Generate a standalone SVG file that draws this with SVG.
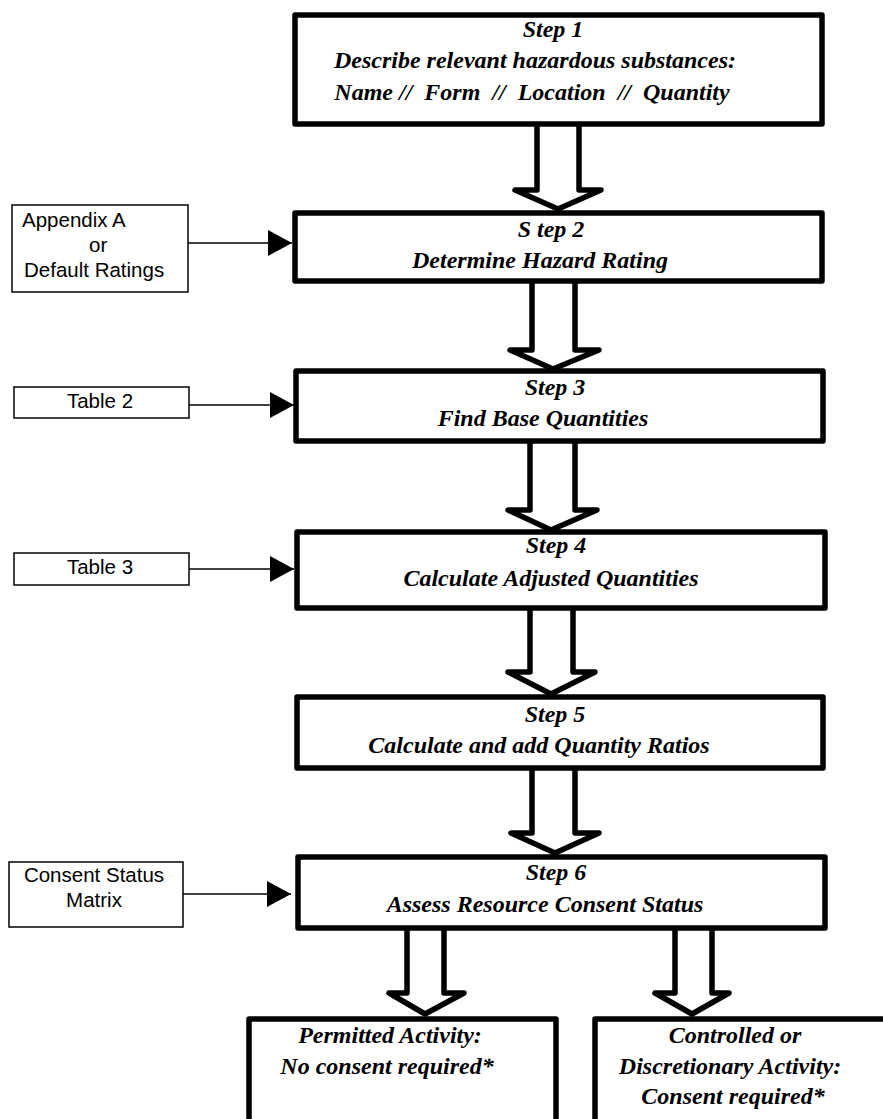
<svg xmlns="http://www.w3.org/2000/svg" width="883" height="1119" viewBox="0 0 883 1119">
<style>
.step{fill:#fff;stroke:#000;stroke-width:5.5;stroke-linejoin:round}
.src{fill:#fff;stroke:#000;stroke-width:1.5}
.big{fill:#fff;stroke:#000;stroke-width:5.5;stroke-linejoin:round}
.thin{fill:none;stroke:#000;stroke-width:1.5}
.t{font-family:"Liberation Serif","Times New Roman",serif;font-weight:bold;font-style:italic;font-size:24px;text-anchor:middle;fill:#000}
.s{font-family:"Liberation Sans",Arial,sans-serif;font-size:20.5px;fill:#000}
.m{text-anchor:middle}
</style>
<defs>
<marker id="ah" markerUnits="userSpaceOnUse" markerWidth="25" markerHeight="26" refX="24" refY="13" orient="auto" viewBox="0 0 25 26">
<path d="M0,0 L24,13 L0,26 z" fill="#000"/>
</marker>
</defs>

<g id="connectors">
<polygon class="big" points="537,122 579,122 579,190 601,190 558,209 515,190 537,190"/>
<polygon class="big" points="532,279 575,279 575,350 599,350 553,369 510,350 532,350"/>
<polygon class="big" points="530,439 575,439 575,510 597,510 551,530 508,510 530,510"/>
<polygon class="big" points="530,606 573,606 573,672 595,672 551,694 508,672 530,672"/>
<polygon class="big" points="532,766 575,766 575,833 599,833 555,853 511,833 532,833"/>
<polygon class="big" points="407,926 444,926 444,993 464,993 425,1014 389,993 407,993"/>
<polygon class="big" points="675,926 712,926 712,993 729,993 692,1014 655,993 675,993"/>
<line class="thin" x1="188" y1="243" x2="292" y2="243" marker-end="url(#ah)"/>
<line class="thin" x1="189" y1="405" x2="294" y2="405" marker-end="url(#ah)"/>
<line class="thin" x1="189" y1="569" x2="294" y2="569" marker-end="url(#ah)"/>
<line class="thin" x1="183" y1="894" x2="291" y2="894" marker-end="url(#ah)"/>
</g>

<g id="step1">
<rect class="step" x="295" y="15" width="527" height="109"/>
<text class="t" x="553" y="37">Step 1</text>
<text class="t" x="535" y="68">Describe relevant hazardous substances:</text>
<text class="t" x="532" y="100" xml:space="preserve">Name //  Form  //  Location  //  Quantity</text>
</g>

<g id="step2">
<rect class="step" x="295" y="213" width="527" height="68"/>
<text class="t" x="551" y="237">S tep 2</text>
<text class="t" x="540" y="268">Determine Hazard Rating</text>
</g>

<g id="step3">
<rect class="step" x="296" y="371" width="527" height="70"/>
<text class="t" x="555" y="395">Step 3</text>
<text class="t" x="543" y="426">Find Base Quantities</text>
</g>

<g id="step4">
<rect class="step" x="297" y="532" width="528" height="76"/>
<text class="t" x="556" y="553">Step 4</text>
<text class="t" x="551" y="586">Calculate Adjusted Quantities</text>
</g>

<g id="step5">
<rect class="step" x="297" y="697" width="526" height="71"/>
<text class="t" x="555" y="722">Step 5</text>
<text class="t" x="539" y="753">Calculate and add Quantity Ratios</text>
</g>

<g id="step6">
<rect class="step" x="298" y="857" width="527" height="71"/>
<text class="t" x="556" y="880">Step 6</text>
<text class="t" x="545" y="912">Assess Resource Consent Status</text>
</g>

<g id="permitted">
<rect class="step" x="249" y="1019" width="307" height="120"/>
<text class="t" x="390" y="1043">Permitted Activity:</text>
<text class="t" x="387" y="1074">No consent required*</text>
</g>

<g id="controlled">
<rect class="step" x="595" y="1019" width="310" height="120"/>
<text class="t" x="735" y="1043">Controlled or</text>
<text class="t" x="730" y="1074">Discretionary Activity:</text>
<text class="t" x="733" y="1104">Consent required*</text>
</g>

<g id="appendix">
<rect class="src" x="12" y="205" width="176" height="87"/>
<text class="s" x="22" y="227">Appendix A</text>
<text class="s" x="89" y="252">or</text>
<text class="s" x="24" y="277">Default Ratings</text>
</g>

<g id="table2">
<rect class="src" x="14" y="387" width="175" height="31"/>
<text class="s m" x="100" y="408">Table 2</text>
</g>

<g id="table3">
<rect class="src" x="14" y="553" width="175" height="32"/>
<text class="s m" x="100" y="574">Table 3</text>
</g>

<g id="consent">
<rect class="src" x="9" y="862" width="174" height="65"/>
<text class="s m" x="94" y="882">Consent Status</text>
<text class="s m" x="94" y="907">Matrix</text>
</g>
</svg>
